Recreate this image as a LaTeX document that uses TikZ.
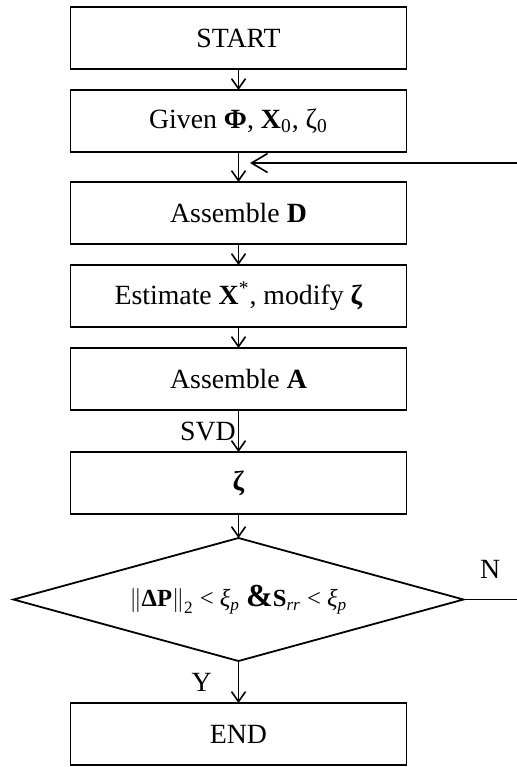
\documentclass[tikz,border=0pt]{standalone}
\usepackage{amsmath}
\usepackage{fontspec}
\setmainfont{Liberation Serif}
\usetikzlibrary{arrows.meta,positioning,shapes.geometric}
\newcommand{\boxfont}{\fontsize{13.9}{16}\selectfont}
\tikzset{
  box/.style={draw, line width=0.9pt, minimum width=168pt, minimum height=31pt,
              inner sep=0pt, outer sep=0pt, align=center, font=\boxfont},
  decide/.style={diamond, draw, line width=0.9pt, aspect=3.65, minimum width=225pt, minimum height=61.5pt,
                 inner sep=0pt, outer sep=0pt, font=\fontsize{12.3}{14}\selectfont},
  flow/.style={-{Straight Barb[length=5pt,width=7pt]}, line width=0.8pt},
  back/.style={-{Straight Barb[length=8pt,width=9.5pt]}, line width=0.8pt},
  lbl/.style={font=\boxfont, inner sep=1pt},
}

\begin{document}
\begin{tikzpicture}
\useasboundingbox (0,0) rectangle (258.5pt,-383.5pt);
\node[box] (start) at (119.25pt,-19pt) {START};
\node[box, below=10.5pt of start] (given) {Given \textbf{Φ}, \textbf{X}\textsubscript{0}, ζ\textsubscript{0}};
\node[box, below=15pt of given] (asmD) {Assemble \textbf{D}};
\node[box, below=10.5pt of asmD] (est) {Estimate \textbf{X}\textsuperscript{*}, modify \textbf{ζ}};
\node[box, below=10.5pt of est] (asmA) {Assemble \textbf{A}};
\node[box, below=21pt of asmA] (zeta) {\textbf{ζ}};
\node[decide, below=12pt of zeta] (chk)
  {$\left\|\text{\textbf{ΔP}}\right\|_{\text{2}}$ < \textit{ξ\textsubscript{p}}
   {\fontsize{16}{16}\selectfont\textbf{\&}}\textbf{S}\textsubscript{\textit{rr}} < \textit{ξ\textsubscript{p}}};
\node[box, below=21pt of chk] (stop) {END};
% loop back from N
\coordinate (fbOut) at (258.5pt,-81.5pt);
\coordinate (fbIn) at (125pt,-81.5pt);
\coordinate (nOut) at (chk.east -| fbOut);
\draw[flow] (start) -- (given);
\draw[flow] (given) -- (asmD);
\draw[flow] (asmD) -- (est);
\draw[flow] (est) -- (asmA);
\draw[flow] (asmA) -- node[lbl, left] {SVD} (zeta);
\draw[flow] (zeta) -- (chk);
\draw[flow] (chk) -- node[lbl, left=12pt] {Y} (stop);
\draw[line width=0.8pt] (chk.east) -- node[lbl, above=9pt] {N} (nOut);
\draw[back] (fbOut) -- (fbIn);
\end{tikzpicture}
\end{document}
